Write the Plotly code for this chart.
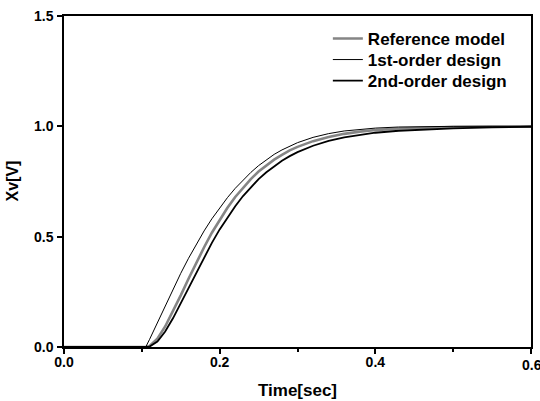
import plotly.graph_objects as go

# Time axis samples (s)
time_s = [0.0, 0.105, 0.11, 0.12, 0.13, 0.14, 0.15, 0.16, 0.17, 0.18, 0.19, 0.20,
          0.21, 0.22, 0.23, 0.24, 0.25, 0.26, 0.27, 0.28, 0.29, 0.30, 0.32, 0.34,
          0.36, 0.38, 0.40, 0.43, 0.46, 0.50, 0.55, 0.60]

reference_model = [0.0, 0.0, 0.005, 0.038, 0.093, 0.161, 0.234, 0.309, 0.383, 0.452,
                   0.518, 0.577, 0.631, 0.680, 0.723, 0.761, 0.795, 0.824, 0.849, 0.871,
                   0.891, 0.907, 0.933, 0.952, 0.966, 0.976, 0.983, 0.990, 0.994, 0.997,
                   0.999, 1.000]

first_order = [0.0, 0.0, 0.035, 0.110, 0.187, 0.262, 0.334, 0.402, 0.466, 0.526,
               0.581, 0.631, 0.677, 0.719, 0.757, 0.791, 0.822, 0.849, 0.873, 0.893,
               0.911, 0.926, 0.950, 0.967, 0.979, 0.987, 0.992, 0.997, 0.999, 1.000,
               1.000, 1.000]

second_order = [0.0, 0.0, 0.002, 0.025, 0.070, 0.130, 0.198, 0.268, 0.338, 0.406,
                0.472, 0.533, 0.588, 0.638, 0.684, 0.725, 0.761, 0.792, 0.820, 0.844,
                0.865, 0.883, 0.912, 0.934, 0.950, 0.962, 0.971, 0.980, 0.986, 0.991,
                0.995, 0.998]

series_names = ["Reference model", "1st-order design", "2nd-order design"]
x_ticks = [0.0, 0.2, 0.4, 0.6]
x_tick_text = ["0.0", "0.2", "0.4", "0.6"]
y_ticks = [0.0, 0.5, 1.0, 1.5]
y_tick_text = ["0.0", "0.5", "1.0", "1.5"]
x_title = "Time[sec]"
y_title = "Xv[V]"

FONT = "Arial, Liberation Sans, sans-serif"
LEG_FONT = dict(size=17, family=FONT, weight="bold", color="black")
TICK_FONT = dict(size=14, family=FONT, weight="bold", color="black")
TITLE_FONT = dict(size=16, family=FONT, weight="bold", color="black")

fig = go.Figure()
fig.add_trace(go.Scatter(x=time_s, y=reference_model, mode="lines", name=series_names[0],
                         line=dict(color="#858585", width=2.6), legend="legend"))
fig.add_trace(go.Scatter(x=time_s, y=first_order, mode="lines", name=series_names[1],
                         line=dict(color="black", width=1), legend="legend2"))
fig.add_trace(go.Scatter(x=time_s, y=second_order, mode="lines", name=series_names[2],
                         line=dict(color="black", width=1.8), legend="legend3"))

PLOT_L, PLOT_W, PLOT_TOP, PLOT_H = 64, 467, 16, 331


def leg(center_px):
    return dict(x=0.565, y=(PLOT_TOP + PLOT_H - center_px) / PLOT_H,
                xanchor="left", yanchor="middle",
                bgcolor="rgba(0,0,0,0)", borderwidth=0, font=LEG_FONT)


fig.update_layout(
    width=540, height=401,
    margin=dict(l=PLOT_L, r=9, t=PLOT_TOP, b=54),
    paper_bgcolor="white", plot_bgcolor="white",
    font=dict(family=FONT, color="black"),
    showlegend=True,
    legend=leg(39), legend2=leg(60), legend3=leg(81),
)
# the last x tick label sits on the page edge and is partly cut, as in the original
fig.add_annotation(x=x_ticks[-1], y=0, xref="x", yref="y", text=x_tick_text[-1],
                   showarrow=False, font=TICK_FONT, xanchor="left", xshift=-11,
                   yanchor="top", yshift=-8)
# y-axis title
fig.add_annotation(x=(12 - PLOT_L) / PLOT_W, y=0.5, xref="paper", yref="paper",
                   text=y_title, textangle=-90, showarrow=False, font=TITLE_FONT,
                   xanchor="center", yanchor="middle")
fig.update_xaxes(
    range=[0, 0.6], tickvals=x_ticks, ticktext=x_tick_text[:-1] + [""], automargin=False,
    showgrid=False, zeroline=False,
    showline=True, linecolor="black", linewidth=1.5, mirror=True,
    ticks="outside", ticklen=5, tickwidth=1.5, tickcolor="black",
    minor=dict(ticks="outside", ticklen=3, tickwidth=1.5, tickcolor="black",
               tickvals=[0.1, 0.3, 0.5], showgrid=False),
    tickfont=TICK_FONT, ticklabelstandoff=-4,
    title=dict(text=x_title, font=dict(size=17, family=FONT, weight="bold"), standoff=16),
)
fig.update_yaxes(
    range=[0, 1.5], tickvals=y_ticks, ticktext=y_tick_text, automargin=False,
    showgrid=False, zeroline=False,
    showline=True, linecolor="black", linewidth=1.5, mirror=True,
    ticks="outside", ticklen=5, tickwidth=1.5, tickcolor="black",
    tickfont=TICK_FONT, ticklabelstandoff=1,
)

fig.write_html("out.html", config={"displayModeBar": False},
               post_script="document.body.style.margin='0px';document.body.style.overflow='hidden';")
